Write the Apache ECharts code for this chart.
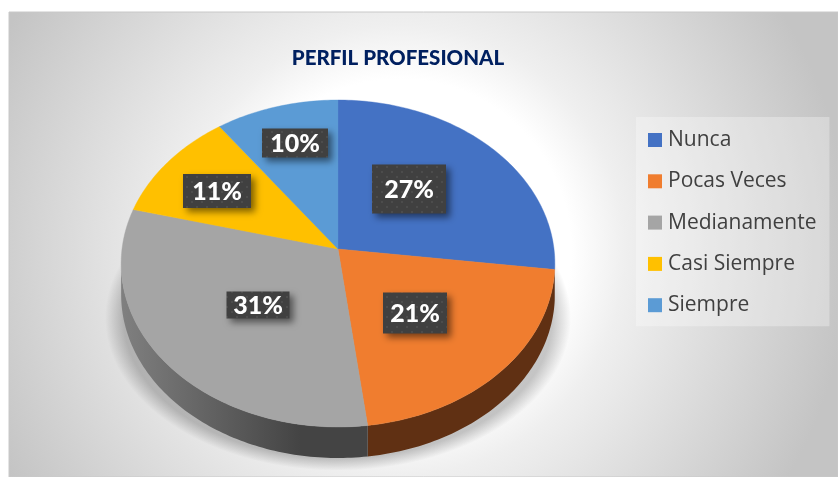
<!DOCTYPE html>
<html><head><meta charset="utf-8">
<style>html,body{margin:0;padding:0;background:#fff}#c{width:838px;height:477px}</style>
<script src="https://cdn.jsdelivr.net/npm/echarts@6/dist/echarts.min.js"></script>
</head><body><div id="c"></div>
<script>
const categories = ['Nunca','Pocas Veces','Medianamente','Casi Siempre','Siempre'];
const percentages = [27,21,31,11,10];
const chartTitle = 'PERFIL PROFESIONAL';

const sliceColors = ['#4472c4','#f07d2f','#a5a5a5','#ffc000','#5b9bd5'];
// label box centre offset from the pie apex, and box size
const labelOffsets = [[71,-60],[77,64],[-80,56],[-121,-58],[-43,-106]];
const labelSizes = [[74,49],[64,41],[63,27],[68,34],[66,29]];

const PIE = {x:338,y:249,k:162.2,m:216,c:0.0887,depth:31};
function project(deg){
  const t = deg*Math.PI/180, ux = Math.sin(t), uy = -Math.cos(t), d = 1 - PIE.c*uy;
  return [PIE.x + PIE.m*ux/d, PIE.y + PIE.k*uy/d];
}
function arc(a,b){
  const pts = [], n = Math.max(2,Math.ceil(Math.abs(b-a)));
  for(let i=0;i<=n;i++) pts.push(project(a+(b-a)*i/n));
  return pts;
}
function dotPattern(){
  const cv = document.createElement('canvas'); cv.width = 10; cv.height = 10;
  const g = cv.getContext('2d');
  g.fillStyle = '#404040'; g.fillRect(0,0,10,10);
  g.fillStyle = '#4c4c4c';
  g.fillRect(1,1,2,2); g.fillRect(6,6,2,2);
  return {image:cv,repeat:'repeat'};
}
const pattern = dotPattern();
function wallFill(i){
  if(i===2) return new echarts.graphic.LinearGradient(120,0,300,0,[{offset:0,color:'#808080'},{offset:1,color:'#444444'}],true);
  return ['#2a4578','#603013','#555555','#8a6800','#37618a'][i];
}
function renderSlice(params,api){
  const i = params.seriesIndex;
  const start = api.value(1)*3.6, end = (api.value(1)+api.value(0))*3.6;
  const top = [[PIE.x,PIE.y]].concat(arc(start,end));
  const children = [];
  const wa = Math.max(start,95), wb = Math.min(end,265);
  if(wb>wa){
    const upper = arc(wa,wb), lower = upper.slice().reverse().map(p=>[p[0],p[1]+PIE.depth]);
    children.push({type:'polygon',shape:{points:upper.concat(lower)},style:{fill:wallFill(i),stroke:null},z2:1});
  }
  children.push({type:'polygon',shape:{points:top},style:{fill:sliceColors[i],stroke:sliceColors[i],lineWidth:0.4},z2:2});
  return {type:'group',children};
}
function renderLabel(params,api){
  const i = params.dataIndex;
  const cx = PIE.x+labelOffsets[i][0], cy = PIE.y+labelOffsets[i][1], w = labelSizes[i][0], h = labelSizes[i][1];
  return {type:'group',children:[
    {type:'rect',shape:{x:cx-w/2,y:cy-h/2,width:w,height:h},
     style:{fill:pattern,shadowBlur:7,shadowColor:'rgba(0,0,0,0.5)',shadowOffsetX:4,shadowOffsetY:4}},
    {type:'text',style:{x:cx,y:cy+1,text:api.value(0)+'%',align:'center',verticalAlign:'middle',
      fill:'#fff',font:'900 25px Lato, "Open Sans", sans-serif'}}
  ]};
}
let cum = 0;
const series = categories.map((name,i)=>{
  const s = {type:'custom',name,coordinateSystem:'none',renderItem:renderSlice,silent:true,z:2,
    itemStyle:{color:sliceColors[i]},data:[{name,value:[percentages[i],cum]}]};
  cum += percentages[i];
  return s;
});
series.push({type:'custom',name:'labels',coordinateSystem:'none',renderItem:renderLabel,silent:true,z:5,
  data:percentages.map((v,i)=>({name:categories[i],value:[v]}))});

const chart = echarts.init(document.getElementById('c'),null,{renderer:'canvas'});
chart.setOption({
  animation:false,
  title:{text:chartTitle,left:393,top:43,textAlign:'center',
    textStyle:{color:'#002060',fontFamily:'Lato, "Open Sans", sans-serif',fontWeight:900,fontSize:20.5}},
  legend:{orient:'vertical',left:636,top:117,data:categories,icon:'rect',itemWidth:14,itemHeight:14,itemGap:20.3,
    padding:[12.5,13,10.5,12],backgroundColor:'rgba(255,255,255,0.3)',selectedMode:false,
    textStyle:{color:'#404040',fontFamily:'"Open Sans", sans-serif',fontSize:21,padding:[1,0,0,1]}},
  graphic:[
    {type:'rect',z:-10,shape:{x:9,y:12,width:829,height:465},
     style:{fill:new echarts.graphic.RadialGradient(400,250,450,[
       {offset:0,color:'#ffffff'},{offset:0.38,color:'#ffffff'},{offset:0.5,color:'#efefef'},{offset:1,color:'#c4c4c4'}],true),
       stroke:'#c8c8c8',lineWidth:1}},
    {type:'circle',z:-5,x:338,y:318,scaleY:0.655,shape:{cx:0,cy:0,r:233},
     style:{fill:new echarts.graphic.RadialGradient(0.5,0.5,0.5,[
       {offset:0,color:'rgba(0,0,0,0.25)'},{offset:0.92,color:'rgba(0,0,0,0.22)'},{offset:1,color:'rgba(0,0,0,0)'}])}}
  ],
  series
});
</script></body></html>
